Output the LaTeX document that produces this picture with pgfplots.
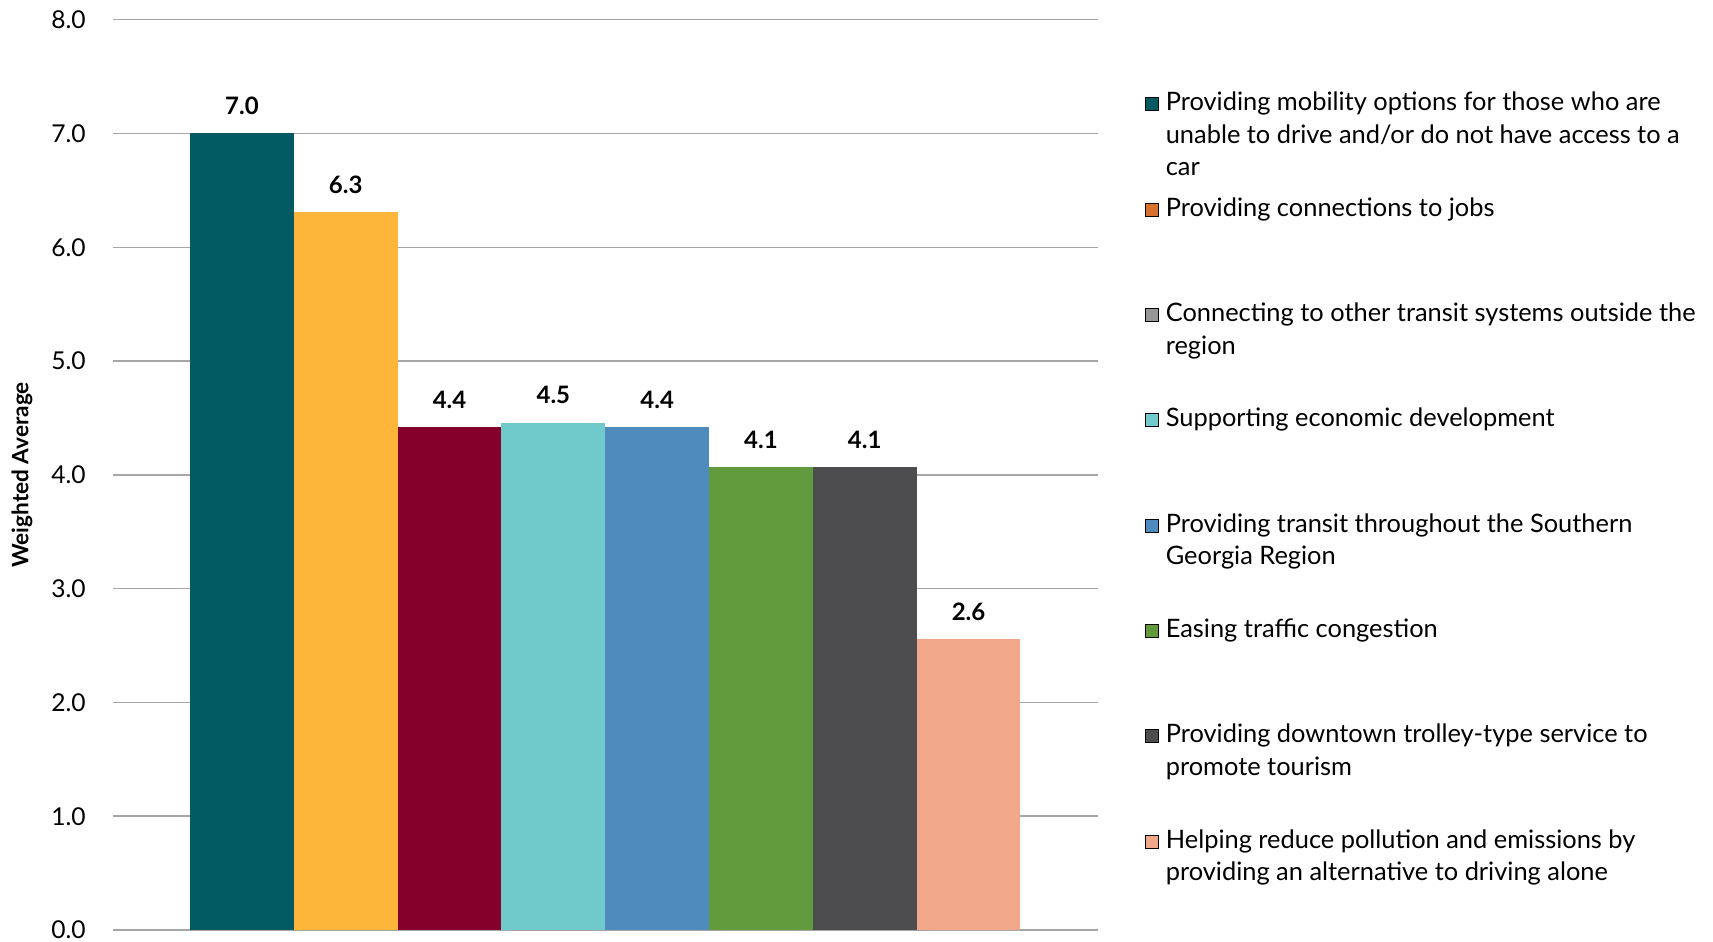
\documentclass[border=0pt]{standalone}
\usepackage{fontspec}
\setmainfont{Lato}
\usepackage{pgfplots}
\pgfplotsset{compat=1.18}
\definecolor{c1}{HTML}{025B63}
\definecolor{c2}{HTML}{FDB53A}
\definecolor{c3}{HTML}{85002B}
\definecolor{c4}{HTML}{70C9CA}
\definecolor{c5}{HTML}{508BBE}
\definecolor{c6}{HTML}{629A3E}
\definecolor{c7}{HTML}{4D4D4F}
\definecolor{c8}{HTML}{F0A78A}
\definecolor{l2}{HTML}{D9712E}
\definecolor{l3}{HTML}{969696}
\definecolor{gridgray}{HTML}{A6A6A6}
\newcommand{\lent}[1]{\raisebox{0pt}[9pt][0pt]{\parbox[t]{320pt}{\fontsize{12.7}{16.3}\selectfont #1}}}
\begin{document}
\begin{tikzpicture}
\useasboundingbox (-56.25pt,-6pt) rectangle (800.25pt,465pt);
\begin{axis}[
  scale only axis, width=492.75pt, height=455.15pt,
  xmin=-0.247, xmax=9.247, ymin=0, ymax=8,
  axis line style={draw=none},
  major tick length=0pt,
  xtick=\empty,
  ytick={0,1,2,3,4,5,6,7,8},
  yticklabels={0.0,1.0,2.0,3.0,4.0,5.0,6.0,7.0,8.0},
  yticklabel style={font=\fontsize{12.3}{14}\selectfont, inner sep=0pt, xshift=-13.25pt},
  ymajorgrids, grid style={draw=gridgray, line width=0.75pt},
  ylabel={Weighted Average},
  ylabel style={font=\bfseries\fontsize{11.3}{13}\selectfont, at={(axis description cs:-0.0918,0.5)}, anchor=center},
  legend image code/.code={\fill[#1] (0pt,17.33pt) rectangle (6.5pt,23.83pt);},
  legend cell align=left,
  legend style={at={(axis description cs:1.0477,0.9198)}, anchor=north west, draw=none, fill=none,
    inner sep=0pt, outer sep=0pt, row sep=0pt, column sep=3.5pt,
    font=\fontsize{12.7}{16.3}\selectfont, nodes={inner sep=0pt, outer sep=0pt, text height=9pt, text depth=43.67pt}},
  barst/.style={ybar, bar width=1, bar shift=0pt, draw=none, forget plot,
    point meta=explicit symbolic, nodes near coords={\pgfplotspointmeta},
    every node near coord/.append style={font=\bfseries\fontsize{12}{14}\selectfont, inner sep=0pt, anchor=south, yshift=9pt, text=black, text height=, text depth=}},
]
\addlegendimage{fill=c1}
\addlegendentry{\lent{Providing mobility options for those who are\\unable to drive and/or do not have access to a\\car}}
\addlegendimage{fill=l2}
\addlegendentry{\lent{Providing connections to jobs}}
\addlegendimage{fill=l3}
\addlegendentry{\lent{Connecting to other transit systems outside the\\region}}
\addlegendimage{fill=c4}
\addlegendentry{\lent{Supporting economic development}}
\addlegendimage{fill=c5}
\addlegendentry{\lent{Providing transit throughout the Southern\\Georgia Region}}
\addlegendimage{fill=c6}
\addlegendentry{\lent{Easing traffic congestion}}
\addlegendimage{fill=c7}
\addlegendentry{\lent{Providing downtown trolley-type service to\\promote tourism}}
\addlegendimage{fill=c8}
\addlegendentry{\lent{Helping reduce pollution and emissions by\\providing an alternative to driving alone}}

\addplot[barst, fill=c1] coordinates {(1,7.00) [7.0]};
\addplot[barst, fill=c2] coordinates {(2,6.31) [6.3]};
\addplot[barst, fill=c3] coordinates {(3,4.42) [4.4]};
\addplot[barst, fill=c4] coordinates {(4,4.46) [4.5]};
\addplot[barst, fill=c5] coordinates {(5,4.42) [4.4]};
\addplot[barst, fill=c6] coordinates {(6,4.07) [4.1]};
\addplot[barst, fill=c7] coordinates {(7,4.07) [4.1]};
\addplot[barst, fill=c8] coordinates {(8,2.56) [2.6]};
\end{axis}
\end{tikzpicture}
\end{document}
